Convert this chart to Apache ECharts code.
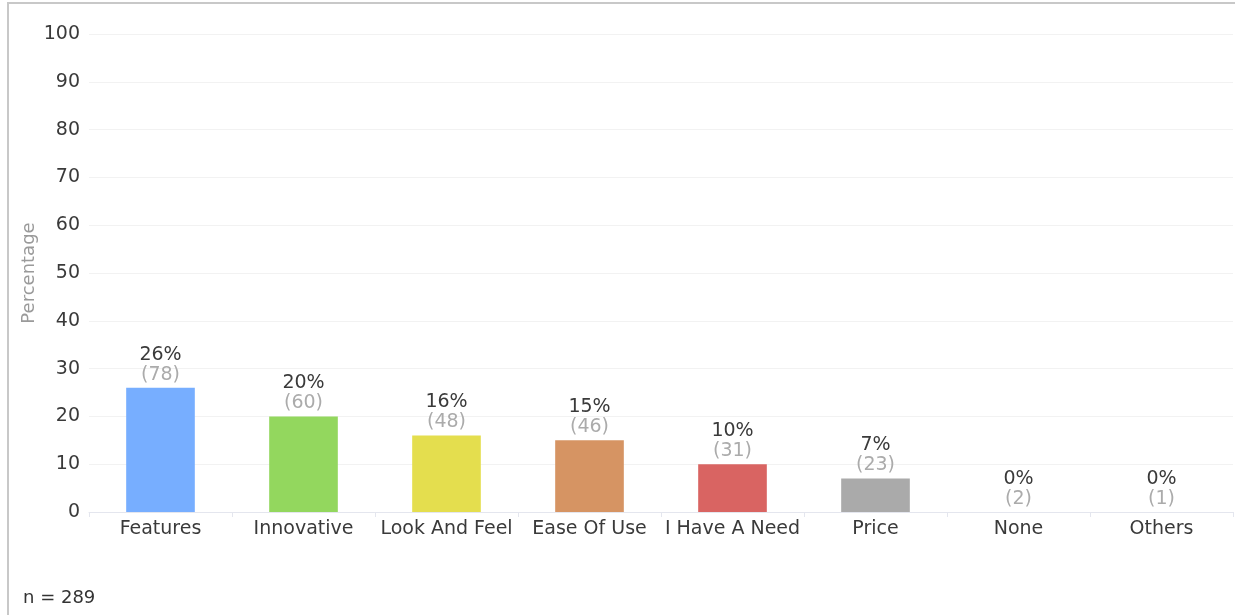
<!DOCTYPE html>
<html>
<head>
<meta charset="utf-8">
<script src="https://cdn.jsdelivr.net/npm/echarts@6/dist/echarts.min.js"></script>
<style>
  html, body { margin: 0; padding: 0; background: #fff; }
  #frame { position: absolute; left: 7px; top: 2px; width: 1240px; height: 620px; border-left: 2px solid #c8c8c8; border-top: 2px solid #c8c8c8; box-sizing: border-box; }
  #chart { position: absolute; left: 0; top: 0; width: 1235px; height: 615px; }
</style>
</head>
<body>
<div id="frame"></div>
<div id="chart"></div>
<script>
// 数据
var categories = ["Features", "Innovative", "Look And Feel", "Ease Of Use", "I Have A Need", "Price", "None", "Others"];
var percents = [26, 20, 16, 15, 10, 7, 0, 0];
var counts = [78, 60, 48, 46, 31, 23, 2, 1];
var barColors = ["#77aeff", "#93d75e", "#e4de4e", "#d69463", "#d96462", "#aaaaaa", "#aaaaaa", "#aaaaaa"];
var yTicks = [0, 10, 20, 30, 40, 50, 60, 70, 80, 90, 100];
var sampleSize = 289;

var font = "DejaVu Sans";
var myChart = echarts.init(document.getElementById("chart"));

var option = {
  animation: false,
  textStyle: { fontFamily: font },
  grid: { left: 89, right: 2, top: 34, bottom: 103 },
  graphic: [{
    type: "text", left: 23, top: 589,
    style: { text: "n = " + sampleSize, font: "18px " + font, fill: "#333" }
  }],
  xAxis: {
    type: "category",
    data: categories,
    axisLine: { lineStyle: { color: "#e4e6ee" } },
    axisTick: { show: true, length: 5, lineStyle: { color: "#e4e6ee" } },
    axisLabel: { color: "#3a3a3a", fontSize: 19, margin: 8, interval: 0, fontFamily: font }
  },
  yAxis: {
    type: "value",
    min: yTicks[0],
    max: yTicks[yTicks.length - 1],
    interval: 10,
    name: "Percentage",
    nameLocation: "middle",
    nameGap: 51,
    nameMoveOverlap: false,
    nameTextStyle: { color: "#9a9a9a", fontSize: 18, fontFamily: font },
    axisLine: { show: false },
    axisTick: { show: false },
    axisLabel: { color: "#3a3a3a", fontSize: 19, margin: 9, fontFamily: font },
    splitLine: { lineStyle: { color: "#f2f2f2" } }
  },
  series: [{
    type: "bar",
    barWidth: "48%",
    data: percents.map(function (v, i) {
      return { value: v, itemStyle: { color: barColors[i] } };
    }),
    label: {
      show: true,
      position: "top",
      distance: 3,
      formatter: function (p) {
        return "{p|" + percents[p.dataIndex] + "%}\n{c|(" + counts[p.dataIndex] + ")}";
      },
      rich: {
        p: { color: "#3a3a3a", fontSize: 19, fontFamily: font, lineHeight: 20 },
        c: { color: "#ababab", fontSize: 19, fontFamily: font, lineHeight: 20 }
      }
    }
  }]
};

myChart.setOption(option);
</script>
</body>
</html>
